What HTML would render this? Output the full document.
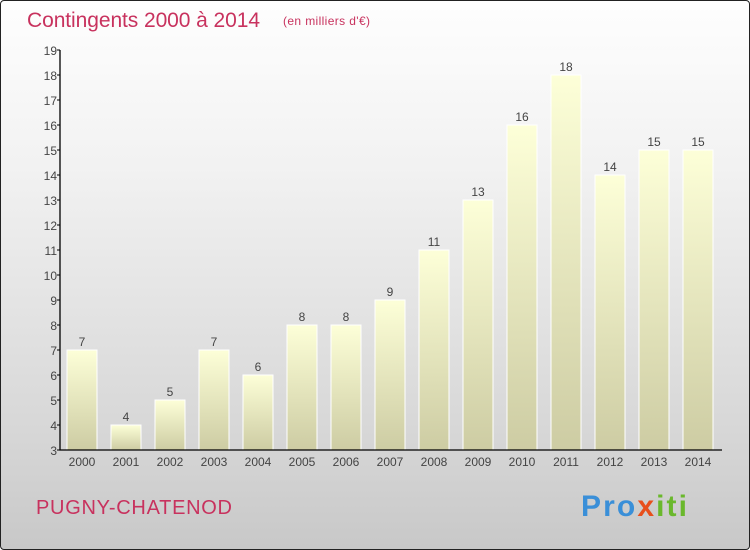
<!DOCTYPE html>
<html><head><meta charset="utf-8"><style>
html,body{margin:0;padding:0}
body{width:750px;height:550px;overflow:hidden;font-family:"Liberation Sans",sans-serif}
#wrap{position:absolute;left:0;top:0;width:748px;height:548px;border:1px solid #222;border-radius:4px;background:linear-gradient(#fefefe,#f2f2f2 30%,#d6d6d6 80%,#c8c8c8);}
svg{position:absolute;left:-1px;top:-1px}
</style></head><body>
<div id="wrap">
<svg width="750" height="550" id="svg">
<defs><linearGradient id="bg" x1="0" y1="0" x2="0" y2="1"><stop offset="0" stop-color="#fdffd8"/><stop offset="1" stop-color="#cdcca3"/></linearGradient></defs>
<text x="27" y="27" font-size="21" fill="#c8325e" textLength="233">Contingents 2000 à 2014</text>
<text x="283" y="25" font-size="12" fill="#c8325e" textLength="87">(en milliers d'€)</text>
<text x="36" y="514" font-size="20" fill="#c8325e" textLength="196">PUGNY-CHATENOD</text>
<text x="581" y="516" font-size="30" font-weight="bold" textLength="106"><tspan fill="#3a8fd8">Pro</tspan><tspan fill="#e84f1c">x</tspan><tspan fill="#6ab82c">iti</tspan></text>
<g id="bars"></g><g id="axes"></g>
</svg></div>
<script>
const years=["2000","2001","2002","2003","2004","2005","2006","2007","2008","2009","2010","2011","2012","2013","2014"];
const values=[7,4,5,7,6,8,8,9,11,13,16,18,14,15,15];
const yTicks=[3,4,5,6,7,8,9,10,11,12,13,14,15,16,17,18,19];
const NS="http://www.w3.org/2000/svg";
const y=v=>450-(v-3)*25;
const x=i=>82+i*44;
function mk(t,a,p){const e=document.createElementNS(NS,t);for(const k in a)e.setAttribute(k,a[k]);p.appendChild(e);return e;}
const bars=document.getElementById('bars'),axes=document.getElementById('axes');
values.forEach((v,i)=>{
 const r=mk('rect',{x:x(i)-15,y:y(v),width:30,height:450-y(v),fill:'url(#bg)',stroke:'#fff','stroke-width':1},bars);
 
 
 const t=mk('text',{x:x(i),y:y(v)-4,'text-anchor':'middle','font-size':12,fill:'#444'},bars);t.textContent=v;
 
 
 const l=mk('text',{x:x(i),y:466,'text-anchor':'middle','font-size':12,fill:'#444'},axes);l.textContent=years[i];
 
 
});
const ax=mk('path',{d:'M60 50V450H722',stroke:'#000',fill:'none','stroke-width':1.3},axes);


yTicks.forEach(v=>{
 mk('line',{x1:57,x2:60,y1:y(v),y2:y(v),stroke:'#000'},axes);
 const t=mk('text',{x:57,y:y(v)+5,'text-anchor':'end','font-size':12,fill:'#444'},axes);t.textContent=v;
 
 
});
</script>
</body></html>
